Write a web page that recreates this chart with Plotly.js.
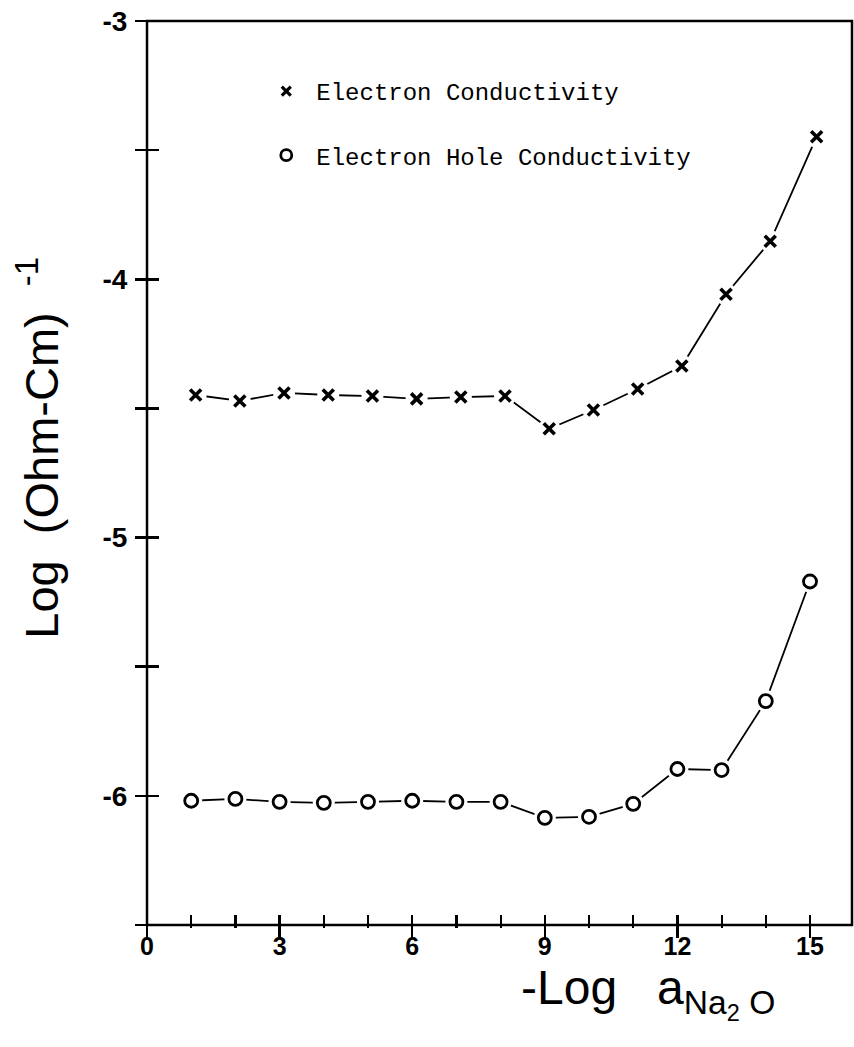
<!DOCTYPE html>
<html>
<head>
<meta charset="utf-8">
<script src="https://cdn.plot.ly/plotly-3.0.1.min.js"></script>
<style>html,body{margin:0;padding:0;background:#fff;}#chart{width:854px;height:1047px;}</style>
</head>
<body>
<div id="chart"></div>
<script>
// ---- data ----
const electronX = [1.1, 2.1, 3.1, 4.1, 5.1, 6.1, 7.1, 8.1, 9.1, 10.1, 11.1, 12.1, 13.1, 14.1, 15.15];
const electronY = [-4.448, -4.471, -4.440, -4.448, -4.452, -4.463, -4.456, -4.452, -4.579, -4.506, -4.425, -4.336, -4.058, -3.853, -3.448];
const holeX = [1.0, 2.0, 3.0, 4.0, 5.0, 6.0, 7.0, 8.0, 9.0, 10.0, 11.0, 12.0, 13.0, 14.0, 15.0];
const holeY = [-6.019, -6.012, -6.023, -6.027, -6.023, -6.019, -6.023, -6.023, -6.085, -6.081, -6.031, -5.896, -5.900, -5.633, -5.170];
const seriesNames = ['Electron Conductivity', 'Electron Hole Conductivity'];
const xTickVals = [0, 3, 6, 9, 12, 15];
const xTickText = ['0', '3', '6', '9', '12', '15'];
const yTickVals = [-6, -5, -4, -3];
const yTickText = ['-6', '-5', '-4', '-3'];
const xTitle = '-Log\u00a0\u00a0\u00a0a<sub>Na<sub>2</sub>\u00a0O</sub>';
const yTitle = 'Log\u00a0\u00a0(Ohm-Cm)\u00a0\u00a0<sup>-1</sup>';

const black = '#000';
function lineTrace(x, y) {
  return {x, y, mode: 'lines', line: {color: black, width: 1.8}, showlegend: false, hoverinfo: 'skip'};
}
function haloTrace(x, y) {
  return {x, y, mode: 'markers', marker: {symbol: 'circle', size: 22, color: '#fff', line: {width: 0}}, showlegend: false, hoverinfo: 'skip'};
}
const traces = [
  lineTrace(electronX, electronY),
  haloTrace(electronX, electronY),
  {x: electronX, y: electronY, mode: 'markers', name: seriesNames[0], showlegend: false,
   marker: {symbol: 'x-thin-open', size: 11, color: black, line: {color: black, width: 3.6}}},
  lineTrace(holeX, holeY),
  haloTrace(holeX, holeY),
  {x: holeX, y: holeY, mode: 'markers', name: seriesNames[1], showlegend: false,
   marker: {symbol: 'circle', size: 13, color: '#fff', line: {color: black, width: 2.8}}},
  // legend entries (markers only)
  {x: [null], y: [null], mode: 'markers', name: seriesNames[0], legendgroup: 'a', showlegend: true,
   marker: {symbol: 'x-thin-open', size: 9, color: black, line: {color: black, width: 3.2}}},
  {x: [null], y: [null], mode: 'markers', name: seriesNames[1], legendgroup: 'b', showlegend: true,
   marker: {symbol: 'circle', size: 11, color: '#fff', line: {color: black, width: 2.8}}}
];

const xTickFont = {family: 'Liberation Sans, Arial, sans-serif', size: 25, color: black, weight: 'bold'};
const yTickFont = {family: 'Liberation Sans, Arial, sans-serif', size: 28, color: black, weight: 'bold'};
const layout = {
  width: 854, height: 1047,
  margin: {l: 147, r: 2, t: 21, b: 122},
  paper_bgcolor: '#fff', plot_bgcolor: '#fff',
  showlegend: true,
  legend: {x: 0.155, xanchor: 'left', y: 0.947, yanchor: 'top', bgcolor: 'rgba(0,0,0,0)',
           font: {family: 'Liberation Mono, Courier New, monospace', size: 24, color: black},
           itemwidth: 50, tracegroupgap: 30},
  // axes are positioned slightly inside the frame so that their outside ticks cross the frame line
  xaxis: {range: [0, 15.95], anchor: 'free', position: 0.0122, showgrid: false, zeroline: false, showline: false,
          tickmode: 'array', tickvals: xTickVals, ticktext: xTickText, ticks: 'outside', ticklen: 23, tickwidth: 2.5, tickcolor: black,
          minor: {dtick: 1, ticks: 'outside', ticklen: 13, tickwidth: 2.2, tickcolor: black, showgrid: false},
          tickfont: xTickFont, ticklabelstandoff: -13},
  yaxis: {range: [-6.5, -3], anchor: 'free', position: 0.0170, showgrid: false, zeroline: false, showline: false,
          tickmode: 'array', tickvals: yTickVals, ticktext: yTickText, ticks: 'outside', ticklen: 24, tickwidth: 2.5, tickcolor: black,
          minor: {tick0: -3, dtick: 0.5, ticks: 'outside', ticklen: 24, tickwidth: 2.5, tickcolor: black, showgrid: false},
          tickfont: yTickFont, ticklabelstandoff: 2},
  shapes: [
    {type: 'rect', xref: 'paper', yref: 'paper', x0: 0, x1: 1, y0: 0, y1: 1, line: {color: black, width: 2.5}, layer: 'above'}
  ],
  annotations: [
    {text: xTitle, xref: 'paper', yref: 'paper', x: 0.528, y: -0.038, xanchor: 'left', yanchor: 'top', showarrow: false,
     font: {family: 'Liberation Sans, Arial, sans-serif', size: 48, color: black}},
    {text: yTitle, xref: 'paper', yref: 'paper', x: -0.2, y: 0.528, xanchor: 'left', yanchor: 'middle', textangle: -90, showarrow: false,
     font: {family: 'Liberation Sans, Arial, sans-serif', size: 47, color: black}}
  ]
};
Plotly.newPlot('chart', traces, layout, {staticPlot: true, displayModeBar: false});
</script>
</body>
</html>
